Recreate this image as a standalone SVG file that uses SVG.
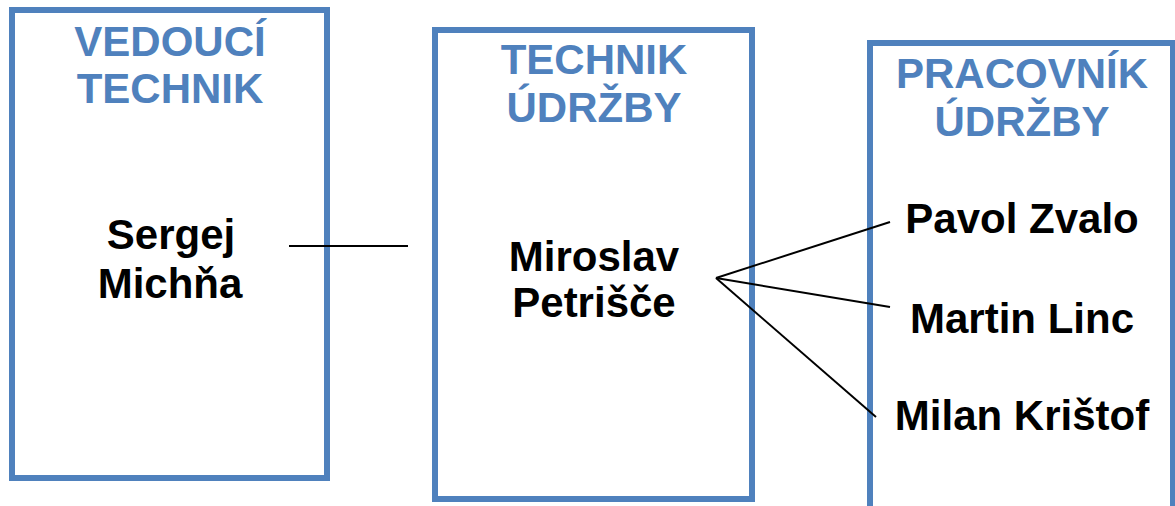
<svg xmlns="http://www.w3.org/2000/svg" width="1175" height="506" viewBox="0 0 1175 506">
  <style>
    .box { fill: #ffffff; stroke: #4f81bd; stroke-width: 6; }
    .title { font-family: "Liberation Sans", Arial, sans-serif; font-weight: bold; font-size: 42px; fill: #4f81bd; text-anchor: middle; }
    .name { font-family: "Liberation Sans", Arial, sans-serif; font-weight: bold; font-size: 42px; fill: #000000; text-anchor: middle; }
    .link { stroke: #000000; stroke-width: 2; fill: none; }
  </style>
  <rect width="1175" height="506" fill="#ffffff"/>

  <g id="vedouci-technik">
    <rect class="box" x="12" y="10" width="315" height="468"/>
    <text class="title" x="170" y="56">VEDOUCÍ</text>
    <text class="title" x="170" y="103">TECHNIK</text>
    <text class="name" x="171" y="249">Sergej</text>
    <text class="name" x="170" y="298">Michňa</text>
  </g>

  <g id="technik-udrzby">
    <rect class="box" x="435" y="30" width="317" height="469"/>
    <text class="title" x="594" y="74">TECHNIK</text>
    <text class="title" x="594" y="122">ÚDRŽBY</text>
    <text class="name" x="594" y="271">Miroslav</text>
    <text class="name" x="594" y="317">Petrišče</text>
  </g>

  <g id="pracovnik-udrzby">
    <rect class="box" x="870" y="43" width="303" height="480"/>
    <text class="title" x="1022" y="88">PRACOVNÍK</text>
    <text class="title" x="1022" y="136">ÚDRŽBY</text>
    <text class="name" x="1022" y="233">Pavol Zvalo</text>
    <text class="name" x="1022" y="333">Martin Linc</text>
    <text class="name" x="1022" y="430">Milan Krištof</text>
  </g>

  <g id="connectors">
    <line class="link" x1="289" y1="246" x2="408" y2="246"/>
    <line class="link" x1="716" y1="278" x2="890" y2="222"/>
    <line class="link" x1="716" y1="278" x2="890" y2="307"/>
    <line class="link" x1="716" y1="278" x2="876" y2="417"/>
  </g>
</svg>
